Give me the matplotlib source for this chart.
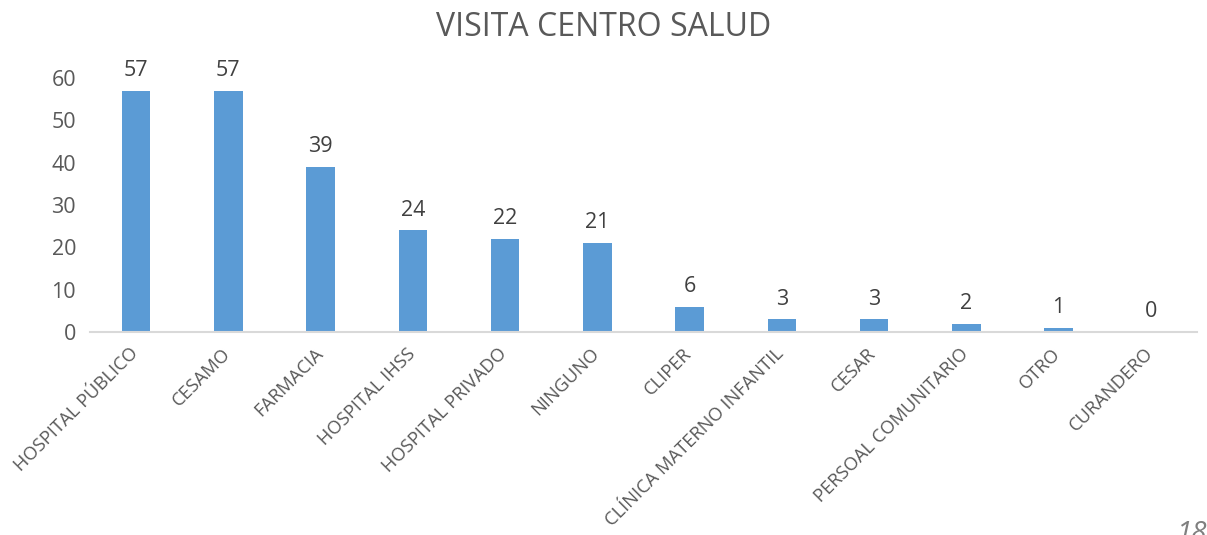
import matplotlib.pyplot as plt
import matplotlib.transforms as mtransforms

categories = ["HOSPITAL PÚBLICO", "CESAMO", "FARMACIA", "HOSPITAL IHSS",
              "HOSPITAL PRIVADO", "NINGUNO", "CLIPER", "CLÍNICA MATERNO INFANTIL",
              "CESAR", "PERSOAL COMUNITARIO", "OTRO", "CURANDERO"]
values = [57, 57, 39, 24, 22, 21, 6, 3, 3, 2, 1, 0]
yticks = [0, 10, 20, 30, 40, 50, 60]

grey = "#595959"
plt.rcParams["font.family"] = ["Open Sans", "DejaVu Sans"]

fig = plt.figure(figsize=(12.07, 5.35), dpi=100)
ax = fig.add_axes([0.0746, 0.3794, 0.917, 0.4748])

x = list(range(len(categories)))
bars = ax.bar(x, values, width=0.31, color="#5B9BD5")
for b, v in zip(bars, values):
    ax.text(b.get_x() + b.get_width() / 2, v + 2.3, str(v), ha="center", va="bottom",
            fontsize=15.5, color="#404040", clip_on=False)

ax.set_xlim(-0.5, len(categories) - 0.5)
ax.set_ylim(0, 60)
ax.set_yticks(yticks)
ax.tick_params(axis="y", length=0, labelsize=15.5, labelcolor=grey, pad=10)
ax.set_xticks(x)
ax.set_xticklabels(categories, rotation=45, ha="right", rotation_mode="anchor",
                   fontsize=13.2, color=grey)
ax.tick_params(axis="x", length=0, pad=9)

# shift the category labels a little to the left, like the original
shift = mtransforms.ScaledTranslation(-7 / 100, 0, fig.dpi_scale_trans)
for lbl in ax.get_xticklabels():
    lbl.set_transform(lbl.get_transform() + shift)

for s in ["top", "right", "left"]:
    ax.spines[s].set_visible(False)
ax.spines["bottom"].set_color("#D9D9D9")
ax.spines["bottom"].set_linewidth(1.5)

fig.text(0.5, 0.948, "VISITA CENTRO SALUD", ha="center", va="center",
         fontsize=23, color=grey)
fig.text(0.988, 0.028, "18", ha="center", va="top", fontsize=20,
         style="italic", color="#7F7F7F")

fig.savefig("out.png", dpi=100)
